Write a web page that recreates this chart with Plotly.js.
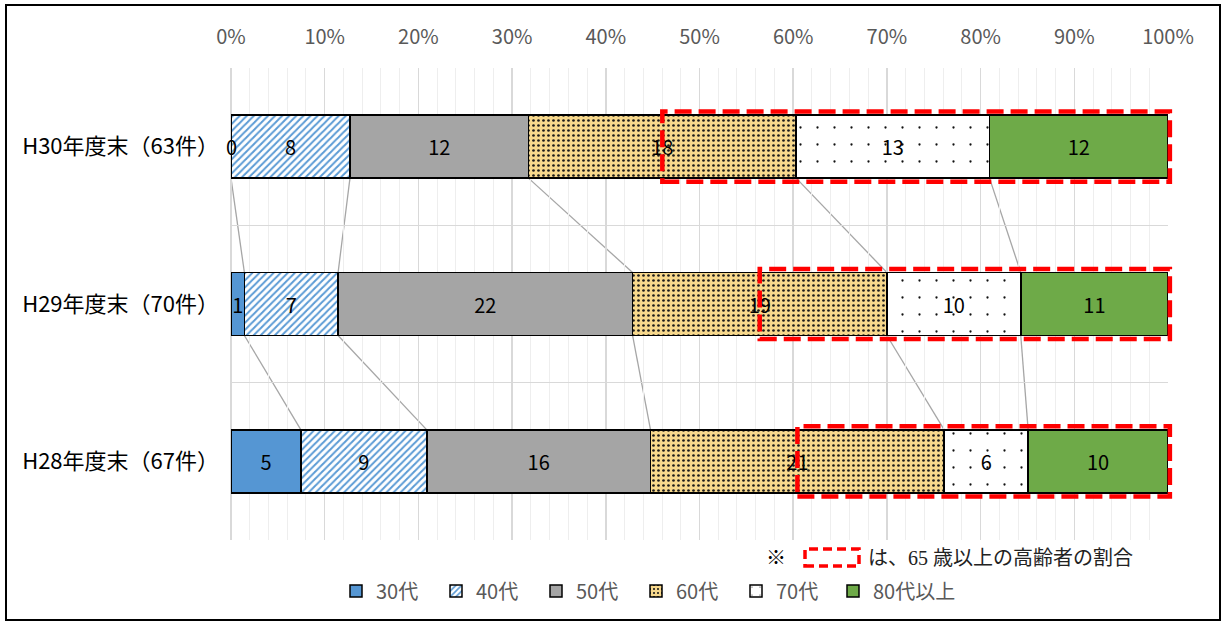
<!DOCTYPE html>
<html>
<head>
<meta charset="utf-8">
<script src="https://cdn.plot.ly/plotly-3.0.1.min.js"></script>
<style>html,body{margin:0;padding:0;background:#fff;}#chart{width:1225px;height:624px;}</style>
</head>
<body>
<div id="chart"></div>
<script>
// Categories (bottom to top)
const categories = ['H28年度末（67件）', 'H29年度末（70件）', 'H30年度末（63件）'];
const seriesNames = ['30代', '40代', '50代', '60代', '70代', '80代以上'];
// Counts per series, order matches categories
const v30 = [5, 1, 0];
const v40 = [9, 7, 8];
const v50 = [16, 22, 12];
const v60 = [21, 19, 18];
const v70 = [6, 10, 13];
const v80 = [10, 11, 12];
const xTickVals = [0, 10, 20, 30, 40, 50, 60, 70, 80, 90, 100];
const noteText = 'は、65 歳以上の高齢者の割合';

const seriesValues = [v30, v40, v50, v60, v70, v80];
const totals = categories.map((c, i) => seriesValues.reduce((s, a) => s + a[i], 0));

const FONT = 'Noto Sans CJK JP, Noto Sans, sans-serif';
const styles = [
  {color: '#5596d3', pattern: {shape: ''}},
  {color: '#ffffff', pattern: {shape: '/', fgcolor: '#5b9bd5', bgcolor: '#ffffff', size: 5, solidity: 0.4, fillmode: 'replace'}},
  {color: '#a5a5a5', pattern: {shape: ''}},
  {color: '#f7d88c', pattern: {shape: '.', fgcolor: '#1a1a1a', bgcolor: '#f7d88c', size: 5, solidity: 0.22, fillmode: 'replace'}},
  {color: '#ffffff', pattern: {shape: '.', fgcolor: '#111111', bgcolor: '#ffffff', size: 17, solidity: 0.014, fillmode: 'replace'}},
  {color: '#6eaa48', pattern: {shape: ''}}
];

const traces = seriesNames.map((name, s) => ({
  type: 'bar',
  orientation: 'h',
  name: name,
  legend: s === seriesNames.length - 1 ? 'legend2' : 'legend',
  y: categories,
  x: seriesValues[s].map((v, i) => v / totals[i] * 100),
  text: seriesValues[s].map(v => v === 0 ? '' : String(v)),
  texttemplate: '%{text}',
  textposition: 'inside',
  insidetextanchor: 'middle',
  textangle: 0,
  constraintext: 'none',
  textfont: {family: FONT, size: 20, color: '#000000'},
  hoverinfo: 'skip',
  marker: {
    color: styles[s].color,
    pattern: styles[s].pattern,
    line: {color: '#000000', width: 1.5}
  }
}));

// cumulative boundaries
const cum = categories.map((c, i) => {
  const arr = [0];
  seriesValues.forEach(a => arr.push(arr[arr.length - 1] + a[i]));
  return arr.map(v => v / totals[i]);
});
const yP = (idx, off) => (idx + 0.5 + off) / categories.length;
const half = 0.2;

const shapes = [];
// series lines
for (let i = 0; i < categories.length - 1; i++) {
  for (let s = 1; s < seriesNames.length; s++) {
    shapes.push({type: 'line', xref: 'paper', yref: 'paper', layer: 'below',
      x0: cum[i + 1][s], y0: yP(i + 1, -half), x1: cum[i][s], y1: yP(i, half),
      line: {color: '#a6a6a6', width: 1.3}});
  }
}
// red dashed boxes: 65+ (half of 60代 plus 70代, 80代以上)
categories.forEach((c, i) => {
  const start = (cum[i][3] * totals[i] + v60[i] / 2) / totals[i];
  shapes.push({type: 'rect', xref: 'paper', yref: 'paper', layer: 'above',
    x0: start, x1: 1.002, y0: yP(i, -0.223), y1: yP(i, 0.223),
    line: {color: '#ff0000', width: 4.5, dash: '17px,7px'}, fillcolor: 'rgba(0,0,0,0)'});
});
// note box & outer frame (paper px helpers)
const PL = 231, PW = 937, PT = 68, PH = 472;
const px = x => (x - PL) / PW, py = y => (PT + PH - y) / PH;
shapes.push({type: 'rect', xref: 'paper', yref: 'paper', x0: px(805), x1: px(859), y0: py(566), y1: py(549),
  line: {color: '#ff0000', width: 3.5, dash: '9px,5px'}});
shapes.push({type: 'rect', xref: 'paper', yref: 'paper', x0: px(6), x1: px(1220), y0: py(620), y1: py(5),
  line: {color: '#000000', width: 2}});

const annotations = [];
categories.forEach((c, i) => {
  seriesValues.forEach((a, s) => {
    if (a[i] === 0) {
      annotations.push({xref: 'paper', yref: 'paper', x: cum[i][s], y: yP(i, 0),
        text: String(a[i]), showarrow: false, xanchor: 'center', yanchor: 'middle',
        font: {family: FONT, size: 20, color: '#000000'}});
    }
  });
});
annotations.push({xref: 'paper', yref: 'paper', x: px(776), y: py(558), text: '※', showarrow: false,
  xanchor: 'center', yanchor: 'middle', font: {family: 'Liberation Serif, Noto Sans CJK JP', size: 20, color: '#000'}});
annotations.push({xref: 'paper', yref: 'paper', x: px(866), y: py(558), text: noteText, showarrow: false,
  xanchor: 'left', yanchor: 'middle', font: {family: 'Liberation Serif, Noto Sans CJK JP', size: 20, color: '#222'}});

const legendFont = {family: FONT, size: 20, color: '#595959'};
const layout = {
  width: 1225, height: 624,
  margin: {l: PL, r: 1225 - PL - PW, t: PT, b: 624 - PT - PH, pad: 0},
  paper_bgcolor: '#ffffff', plot_bgcolor: '#ffffff',
  barmode: 'stack', bargap: 0.6,
  showlegend: true,
  legend: {orientation: 'h', x: px(336), xanchor: 'left', y: py(591), yanchor: 'middle',
    traceorder: 'normal', font: legendFont, itemwidth: 30,
    entrywidth: 55, entrywidthmode: 'pixels', bgcolor: 'rgba(0,0,0,0)'},
  legend2: {orientation: 'h', x: px(833), xanchor: 'left', y: py(591), yanchor: 'middle',
    traceorder: 'normal', font: legendFont, itemwidth: 30, bgcolor: 'rgba(0,0,0,0)'},
  xaxis: {
    side: 'top', range: [0, 100], tickvals: xTickVals, ticktext: xTickVals.map(v => v + '%'),
    showgrid: true, gridcolor: '#d9d9d9', gridwidth: 1.5,
    minor: {dtick: 2, showgrid: true, gridcolor: '#eeeeee', gridwidth: 1},
    zeroline: true, zerolinecolor: '#d9d9d9', zerolinewidth: 1.5,
    showline: false, ticks: 'outside', ticklen: 15, tickcolor: 'rgba(0,0,0,0)',
    tickfont: {family: FONT, size: 20, color: '#595959'}, fixedrange: true
  },
  yaxis: {
    type: 'category', categoryorder: 'array', categoryarray: categories,
    tickson: 'boundaries', showgrid: true, gridcolor: '#d9d9d9', gridwidth: 1.5,
    ticks: 'outside', ticklen: 22, tickcolor: 'rgba(0,0,0,0)', ticklabelstandoff: 11,
    showline: false, zeroline: false,
    tickfont: {family: FONT, size: 22, color: '#000000'}, fixedrange: true
  },
  shapes: shapes,
  annotations: annotations
};

Plotly.newPlot('chart', traces, layout, {displayModeBar: false, staticPlot: true});
</script>
</body>
</html>
